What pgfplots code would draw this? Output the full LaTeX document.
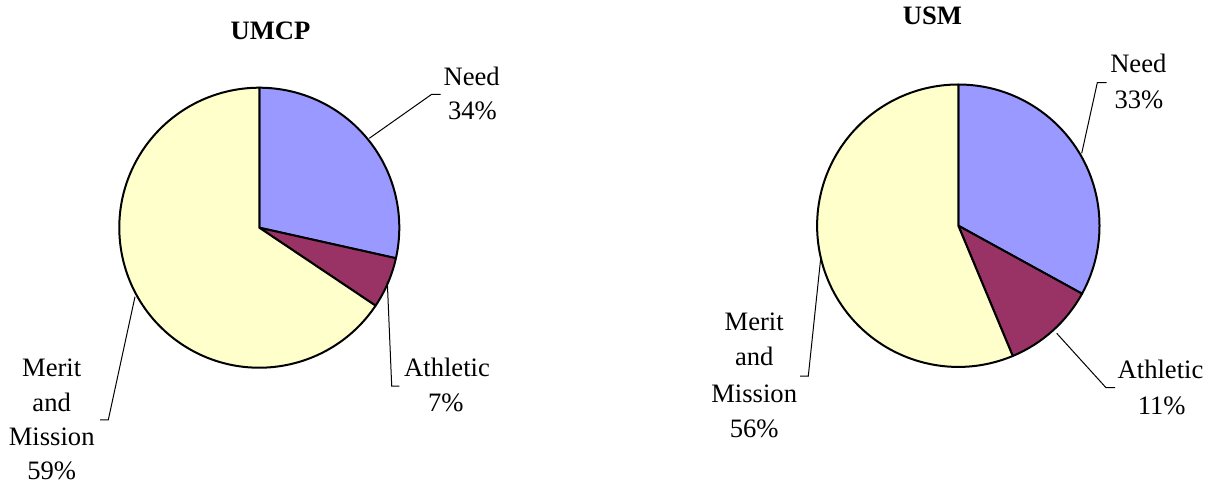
\documentclass[border=0pt]{standalone}
\usepackage{pgfplots}
\pgfplotsset{compat=1.18}
\usepackage{fontspec}
\setmainfont{Liberation Serif}

\definecolor{needc}{HTML}{9999FF}
\definecolor{athc}{HTML}{993366}
\definecolor{meritc}{HTML}{FFFFCC}

% pie: centre x, centre y (pixel units of the axis), radius, list of share/colour
\newcommand\pie[4]{%
  \gdef\cum{0}%
  \foreach \v/\col in {#4}{%
    \pgfmathsetmacro\a{90-3.6*\cum}%
    \pgfmathsetmacro\b{90-3.6*(\cum+\v)}%
    \edef\piewedge{\noexpand\filldraw[fill=\col, draw=black, line width=1bp, line join=round]
      (axis cs:#1,#2) -- ++(\a:#3) arc[start angle=\a, end angle=\b, radius=#3] -- cycle;}%
    \piewedge
    \pgfmathsetmacro\n{\cum+\v}\global\let\cum\n
  }%
}

\begin{document}
\begin{tikzpicture}[font=\fontsize{13.3bp}{16bp}\selectfont]
\useasboundingbox (0,0) rectangle (604.5bp,242bp);
\begin{axis}[
  scale only axis, width=604.5bp, height=242bp,
  xmin=0, xmax=1209, ymin=0, ymax=484, y dir=reverse,
  hide axis, clip=false]

% shares of each pie as drawn (percent of the circle)
\pie{259.3}{227.7}{70bp}{28.5/needc, 5.9/athc, 65.6/meritc}
\pie{958.3}{225.7}{70.6bp}{33.0/needc, 10.7/athc, 56.3/meritc}

% UMCP
\node[anchor=base, inner sep=0, font=\fontsize{13.3bp}{16bp}\selectfont\bfseries] at (axis cs:270.5,40) {UMCP};
\draw[line width=0.5bp] (axis cs:369.3,138.3) -- (axis cs:431.7,94.3) -- (axis cs:440.7,94.3);
\node[anchor=base, inner sep=0] at (axis cs:471.7,85) {Need};
\node[anchor=base, inner sep=0] at (axis cs:472.5,119.3) {34\%};
\draw[line width=0.5bp] (axis cs:387.3,281.7) -- (axis cs:391.7,386) -- (axis cs:399.3,386);
\node[anchor=base, inner sep=0] at (axis cs:447,376.7) {Athletic};
\node[anchor=base, inner sep=0] at (axis cs:445.8,411.7) {7\%};
\draw[line width=0.5bp] (axis cs:135,296.7) -- (axis cs:108.3,419.8) -- (axis cs:100,419.8);
\node[anchor=base, inner sep=0] at (axis cs:51.7,376.7) {Merit};
\node[anchor=base, inner sep=0] at (axis cs:51.7,411) {and};
\node[anchor=base, inner sep=0] at (axis cs:51.7,445) {Mission};
\node[anchor=base, inner sep=0] at (axis cs:51.7,479) {59\%};

% USM
\node[anchor=base, inner sep=0, font=\fontsize{13.3bp}{16bp}\selectfont\bfseries] at (axis cs:932.5,25) {USM};
\draw[line width=0.5bp] (axis cs:1081.7,153.3) -- (axis cs:1097.3,82.7) -- (axis cs:1106.7,82.7);
\node[anchor=base, inner sep=0] at (axis cs:1138.3,72.7) {Need};
\node[anchor=base, inner sep=0] at (axis cs:1139,108.3) {33\%};
\draw[line width=0.5bp] (axis cs:1056.7,333.3) -- (axis cs:1106,387.7) -- (axis cs:1115,387.7);
\node[anchor=base, inner sep=0] at (axis cs:1160.5,378.3) {Athletic};
\node[anchor=base, inner sep=0] at (axis cs:1161.7,414.3) {11\%};
\draw[line width=0.5bp] (axis cs:820.7,258.3) -- (axis cs:808.3,376) -- (axis cs:800,376);
\node[anchor=base, inner sep=0] at (axis cs:754.2,330) {Merit};
\node[anchor=base, inner sep=0] at (axis cs:754.2,365.7) {and};
\node[anchor=base, inner sep=0] at (axis cs:754.2,402.3) {Mission};
\node[anchor=base, inner sep=0] at (axis cs:754.2,437.7) {56\%};
\end{axis}
\end{tikzpicture}
\end{document}
